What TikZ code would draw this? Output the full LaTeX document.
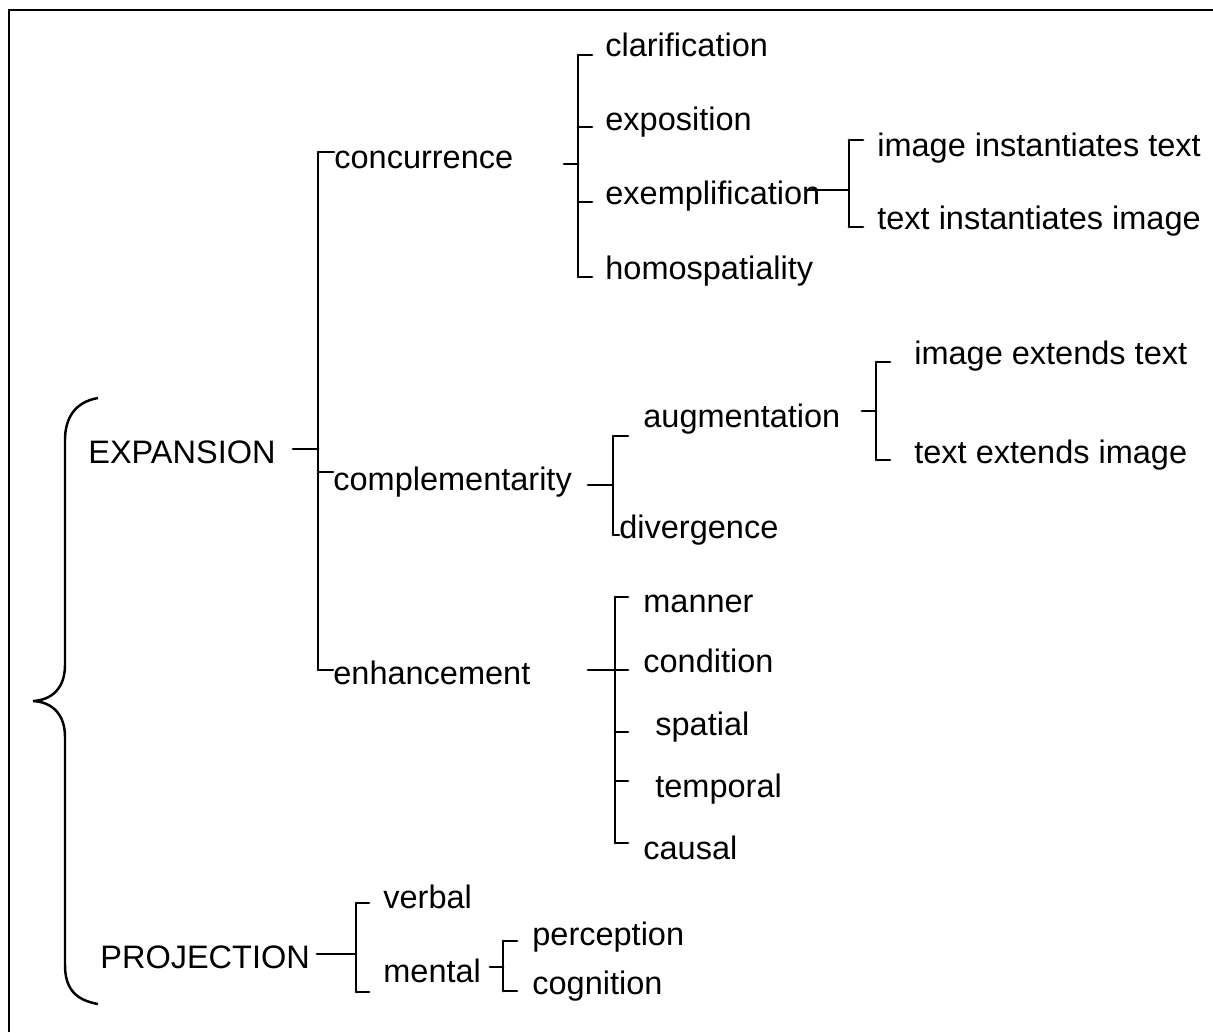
\documentclass[tikz,border=0pt]{standalone}
\usepackage{fontspec}
\setmainfont{Liberation Sans}
\usepackage{tikz}
\usetikzlibrary{positioning}
\tikzset{font=\fontsize{18.5}{22}\selectfont}
\tikzstyle{lbl}=[anchor=west,inner sep=0pt,text height=13pt,text depth=4pt,yshift=-0.07cm]
\tikzstyle{brk}=[line width=1.6pt,line cap=round]

\begin{document}
\begin{tikzpicture}[x=0.02cm,y=-0.02cm]
\useasboundingbox (0,0) rectangle (1213,1032);
\draw[line width=1.6pt] (9,1032) -- (9,10) -- (1213,10);
% top level
\node[lbl] (exp) at (88,452) {EXPANSION};
\node[lbl] (proj) at (100,957) {PROJECTION};
% expansion
\node[lbl] (conc) at (334,157) {concurrence};
\node[lbl] (compl) at (333,479) {complementarity};
\node[lbl] (enh) at (333,673) {enhancement};
% concurrence
\node[lbl] (clar) at (605,45) {clarification};
\node[lbl] (expo) at (605,119) {exposition};
\node[lbl] (exem) at (605,193) {exemplification};
\node[lbl] (homo) at (605,268) {homospatiality};
\node[lbl] (iit) at (877,145) {image instantiates text};
\node[lbl] (tii) at (877,218) {text instantiates image};
% complementarity
\node[lbl] (aug) at (643,416) {augmentation};
\node[lbl] (div) at (619,527) {divergence};
\node[lbl] (iet) at (914,353) {image extends text};
\node[lbl] (tei) at (914,452) {text extends image};
% enhancement
\node[lbl] (man) at (643,601) {manner};
\node[lbl] (cond) at (643,661) {condition};
\node[lbl] (spat) at (655,724) {spatial};
\node[lbl] (temp) at (655,786) {temporal};
\node[lbl] (caus) at (643,848) {causal};
% projection
\node[lbl] (verb) at (383,897) {verbal};
\node[lbl] (ment) at (383,971) {mental};
\node[lbl] (perc) at (532,934) {perception};
\node[lbl] (cogn) at (532,983) {cognition};

% bracket points
\coordinate (e0) at (293,449);
\coordinate (e1) at (318,152);
\coordinate (e2) at (318,472);
\coordinate (e3) at (318,670);
\coordinate (c0) at (564,164);
\coordinate (c1) at (578,55);
\coordinate (c2) at (578,127);
\coordinate (c3) at (578,202);
\coordinate (c4) at (578,277);
\coordinate (x0) at (807,190);
\coordinate (x1) at (849,140);
\coordinate (x2) at (849,227);
\coordinate (m0) at (588,485);
\coordinate (m1) at (613,436);
\coordinate (m2) at (613,535);
\coordinate (a0) at (862,411);
\coordinate (a1) at (876,362);
\coordinate (a2) at (876,460);
\coordinate (h0) at (588,670);
\coordinate (h1) at (615,597);
\coordinate (h2) at (615,670);
\coordinate (h3) at (615,732);
\coordinate (h4) at (615,781);
\coordinate (h5) at (615,843);
\coordinate (p0) at (317,954);
\coordinate (p1) at (356,903);
\coordinate (p2) at (356,992);
\coordinate (q0) at (490,967);
\coordinate (q1) at (503,941);
\coordinate (q2) at (503,991);

\draw[brk] (e0) -- (e0 -| e1) (e1) -- (e3)
  (e1) -- (e1 -| conc.west) (e2) -- (e2 -| compl.west) (e3) -- (e3 -| enh.west);
\draw[brk] (c0) -- (c0 -| c1) (c1) -- (c4)
  (c1) -- +(14,0) (c2) -- +(14,0) (c3) -- +(14,0) (c4) -- +(14,0);
\draw[brk] (x0) -- (x0 -| x1) (x1) -- (x2)
  (x1) -- +(14,0) (x2) -- +(14,0);
\draw[brk] (m0) -- (m0 -| m1) (m1) -- (m2)
  (m1) -- +(15,0) (m2) -- (m2 -| div.west);
\draw[brk] (a0) -- (a0 -| a1) (a1) -- (a2)
  (a1) -- +(14,0) (a2) -- +(14,0);
\draw[brk] (h0) -- (h2) -- +(13,0) (h1) -- (h5)
  (h1) -- +(13,0) (h3) -- +(13,0) (h4) -- +(13,0) (h5) -- +(13,0);
\draw[brk] (p0) -- (p0 -| p1) (p1) -- (p2)
  (p1) -- +(13,0) (p2) -- +(13,0);
\draw[brk] (q0) -- (q0 -| q1) (q1) -- (q2)
  (q1) -- +(14,0) (q2) -- +(14,0);

% the brace
\draw[line width=1.4pt] (98,398) .. controls (75,402) and (65,418) .. (65,440) -- (65,665)
  .. controls (65,688) and (52,700) .. (33,701)
  .. controls (52,702) and (65,714) .. (65,737) -- (65,965)
  .. controls (65,988) and (75,1000) .. (98,1004);
\end{tikzpicture}
\end{document}
